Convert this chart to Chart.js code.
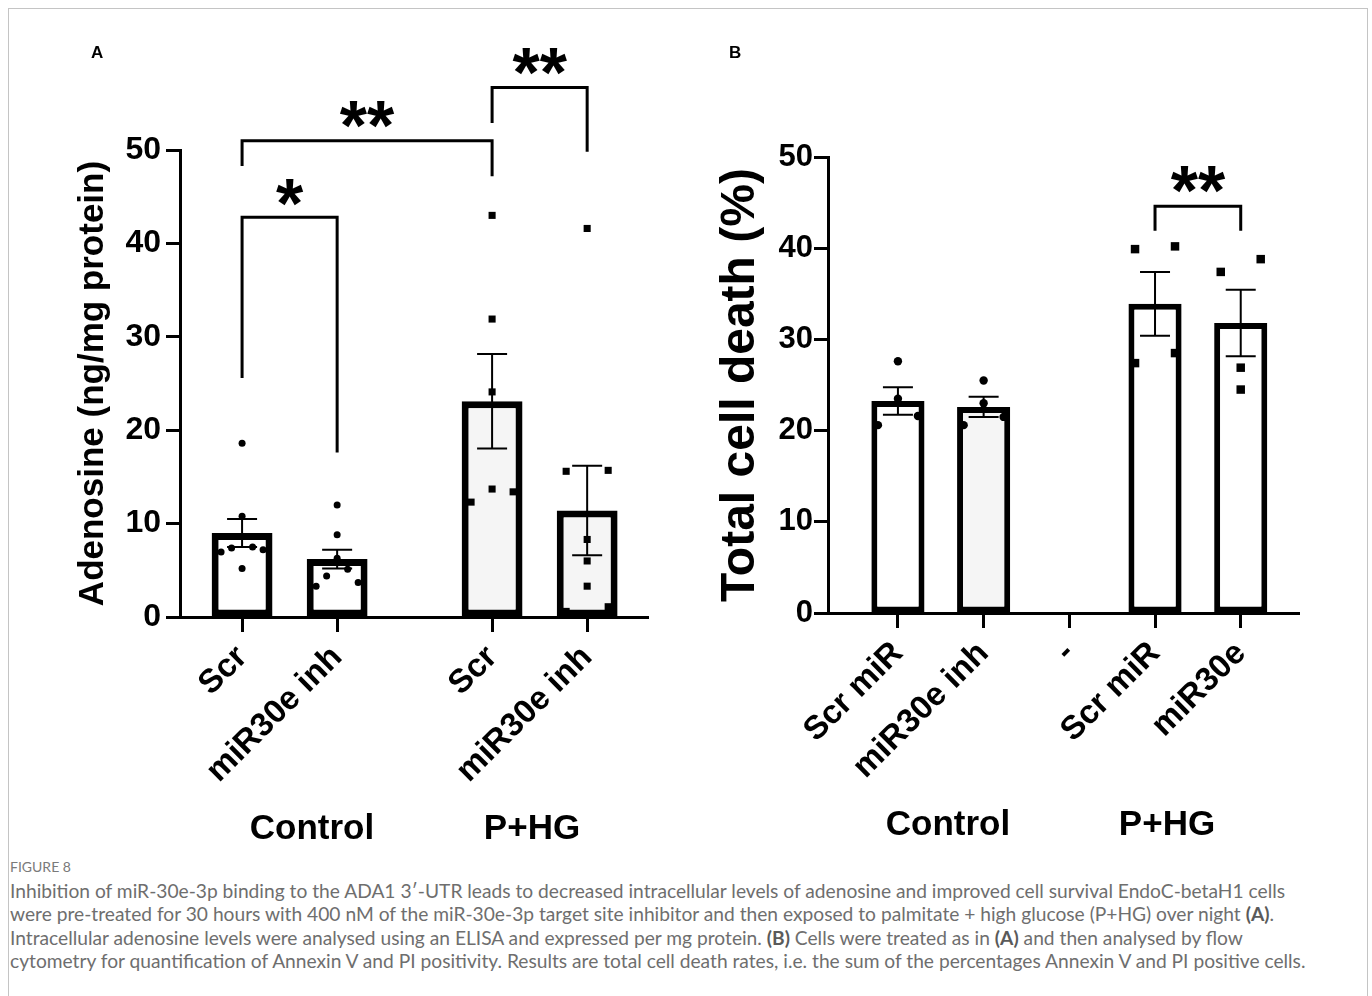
<!DOCTYPE html>
<html>
<head>
<meta charset="utf-8">
<script src="https://cdn.jsdelivr.net/npm/chart.js@4.4.1/dist/chart.umd.min.js"></script>
<style>
body { margin:0; background:#fff; width:1372px; height:996px; overflow:hidden; position:relative; font-family:'Liberation Sans', Arial, sans-serif; }
#frame { position:absolute; left:8px; top:8px; width:1360px; height:1000px; border:1.5px solid #c4c4c4; border-bottom:none; box-sizing:border-box; }
.wrap { position:absolute; top:0; height:850px; }
#wa { left:0; width:690px; }
#wb { left:690px; width:682px; }
.panel { position:absolute; top:43px; font-weight:bold; font-size:17px; }
.group { position:absolute; font-weight:bold; font-size:35px; transform:translate(-50%,-50%); white-space:nowrap; }
#cap { position:absolute; left:10px; top:855px; font-family:Lato, 'Open Sans', sans-serif; color:#6e6e6e; font-size:19.2px; line-height:23.5px; white-space:nowrap; }
#cap .fig { font-size:14px; color:#7a7a7a; }
#cap b { color:#5a5a5a; }
</style>
</head>
<body>
<div id="frame"></div>
<div class="wrap" id="wa"><canvas id="chartA"></canvas></div>
<div class="wrap" id="wb"><canvas id="chartB"></canvas></div>
<div class="panel" style="left:91px">A</div>
<div class="panel" style="left:729px">B</div>
<div class="group" style="left:312px;top:827px">Control</div>
<div class="group" style="left:532px;top:827px">P+HG</div>
<div class="group" style="left:948px;top:823px">Control</div>
<div class="group" style="left:1167px;top:823px">P+HG</div>
<div id="cap">
<div class="fig">FIGURE 8</div>
<div>Inhibition of miR-30e-3p binding to the ADA1 3′-UTR leads to decreased intracellular levels of adenosine and improved cell survival EndoC-betaH1 cells</div>
<div>were pre-treated for 30 hours with 400 nM of the miR-30e-3p target site inhibitor and then exposed to palmitate + high glucose (P+HG) over night <b>(A)</b>.</div>
<div>Intracellular adenosine levels were analysed using an ELISA and expressed per mg protein. <b>(B)</b> Cells were treated as in <b>(A)</b> and then analysed by flow</div>
<div>cytometry for quantification of Annexin V and PI positivity. Results are total cell death rates, i.e. the sum of the percentages Annexin V and PI positive cells.</div>
</div>
<script>
// panel A - adenosine
var adenosineLabels = ['Scr', 'miR30e inh', 'Scr', 'miR30e inh'];
var adenosineMean = [9.0, 6.2, 23.1, 11.4];
var adenosineSem = [1.5, 1.0, 5.05, 4.8];
var adenosineScrCtrl = [18.6, 10.8, 7.5, 7.2, 6.95, 7.4, 5.2];
var adenosineInhCtrl = [12.0, 8.8, 6.3, 5.1, 3.3, 3.7, 4.4];
var adenosineScrPHG = [43.0, 31.9, 24.1, 13.7, 12.3, 13.4];
var adenosineInhPHG = [41.6, 15.7, 15.6, 8.3, 6.0, 3.3, 0.6, 1.1];
// [from, to, label, bracket top, left leg end, right leg end, star centre]
var adenosineSig = [
  [0, 1, '*', 42.8, 25.6, 17.6, 45.8],
  [0, 2, '**', 51.0, 48.3, 47.2, 54.2],
  [2, 3, '**', 56.7, 52.9, 49.8, 59.9]
];

// panel B - total cell death
var deathLabels = ['Scr miR', 'miR30e inh', '-', 'Scr miR', 'miR30e'];
var deathMean = [23.25, 22.6, null, 33.9, 31.8];
var deathSem = [1.5, 1.1, null, 3.5, 3.65];
var deathScrCtrl = [27.6, 23.5, 21.6, 20.6];
var deathInhCtrl = [25.5, 23.0, 20.6, 21.5];
var deathScrPHG = [39.9, 40.2, 27.4, 28.5];
var deathMiRPHG = [37.4, 38.8, 26.9, 24.5];
var deathSig = [
  [3, 4, '**', 44.6, 41.9, 41.9, 47.9]
];

var FONT = "'Liberation Sans', Arial, sans-serif";

// category positions (P+HG group shifted right in A)
var aPos = adenosineLabels.map(function (l, i) { return i + (i >= 2 ? 0.63 : 0); });
var bPos = deathLabels.map(function (l, i) { return i; });

// scatter layout: points that sit close in y are spread into lanes around the bar centre
function swarm(values, center, pxPerY, pxPerX, laneStep, minSep) {
  var order = values.map(function (v, i) { return i; }).sort(function (a, b) { return values[b] - values[a]; });
  var bins = [], out = [];
  order.forEach(function (i, k) {
    if (k === 0 || (values[order[k - 1]] - values[i]) * pxPerY >= minSep) bins.push([]);
    bins[bins.length - 1].push(i);
  });
  bins.forEach(function (bin) {
    var lanes = [];
    if (bin.length % 2) lanes.push(0);
    for (var j = 1; lanes.length < bin.length; j++) { lanes.push(j); lanes.push(-j); }
    bin.forEach(function (i, j) {
      out[i] = { x: center + lanes[j] * laneStep / pxPerX, y: values[i] };
    });
  });
  return out;
}

var extras = {
  id: 'extras',
  afterDatasetsDraw: function (chart, args, opts) {
    var ctx = chart.ctx, xs = chart.scales.x, ys = chart.scales.y;
    ctx.save();
    ctx.strokeStyle = '#000';
    ctx.lineWidth = opts.errWidth;
    opts.pos.forEach(function (p, i) {
      if (opts.mean[i] == null) return;
      var px = xs.getPixelForValue(p);
      var top = ys.getPixelForValue(opts.mean[i] + opts.sem[i]);
      var bot = ys.getPixelForValue(opts.mean[i] - opts.sem[i]);
      ctx.beginPath();
      ctx.moveTo(px, top); ctx.lineTo(px, bot);
      ctx.moveTo(px - opts.cap, top); ctx.lineTo(px + opts.cap, top);
      ctx.moveTo(px - opts.cap, bot); ctx.lineTo(px + opts.cap, bot);
      ctx.stroke();
    });
    ctx.lineWidth = 3;
    ctx.fillStyle = '#000';
    ctx.font = 'bold ' + opts.starSize + 'px ' + FONT;
    ctx.textAlign = 'center';
    ctx.textBaseline = 'alphabetic';
    opts.sig.forEach(function (s) {
      var x1 = xs.getPixelForValue(opts.pos[s[0]]);
      var x2 = xs.getPixelForValue(opts.pos[s[1]]);
      var yt = ys.getPixelForValue(s[3]);
      ctx.beginPath();
      ctx.moveTo(x1, ys.getPixelForValue(s[4]));
      ctx.lineTo(x1, yt);
      ctx.lineTo(x2, yt);
      ctx.lineTo(x2, ys.getPixelForValue(s[5]));
      ctx.stroke();
      ctx.fillText(s[2], (x1 + x2) / 2, ys.getPixelForValue(s[6]) + opts.starSize * 0.56);
    });
    ctx.restore();
  }
};

function dots(data, style, r) {
  return { type: 'scatter', data: data, pointStyle: style, pointRadius: r, pointHoverRadius: r,
    backgroundColor: '#000', borderColor: '#000', borderWidth: 0, order: 1 };
}

function axisX(pos, labels, min, max, height, fontSize) {
  return {
    type: 'linear', min: min, max: max, offset: false,
    afterBuildTicks: function (s) { s.ticks = pos.map(function (v) { return { value: v }; }); },
    afterFit: function (s) { s.height = height; },
    ticks: { autoSkip: false, minRotation: 45, maxRotation: 45, padding: 6, color: '#000',
      font: { family: FONT, size: fontSize, weight: 'bold' },
      callback: function (v, i) { return labels[i]; } },
    grid: { display: true, offset: false, drawOnChartArea: false, drawTicks: true, tickLength: 15, tickWidth: 3, tickColor: '#000' },
    border: { display: true, color: '#000', width: 3 }
  };
}

function axisY(width, title, titleSize, titlePad, tickSize, tickPad) {
  return {
    min: 0, max: 50,
    afterFit: function (s) { s.width = width; },
    ticks: { stepSize: 10, padding: tickPad, color: '#000', font: { family: FONT, size: tickSize, weight: 'bold' } },
    title: { display: true, text: title, color: '#000', font: { family: FONT, size: titleSize, weight: 'bold' },
      padding: { top: titlePad, bottom: 0 } },
    grid: { display: true, drawOnChartArea: false, drawTicks: true, tickLength: 14, tickWidth: 3, tickColor: '#000' },
    border: { display: true, color: '#000', width: 3 }
  };
}

// Panel A
var chartA = new Chart(document.getElementById('chartA'), {
  type: 'bar',
  data: {
    datasets: [
      { type: 'bar', data: aPos.map(function (p, i) { return { x: p, y: adenosineMean[i] }; }),
        backgroundColor: ['#ffffff', '#ffffff', '#f5f5f5', '#f5f5f5'], borderColor: '#000',
        borderWidth: 7, borderSkipped: false, barPercentage: 0.64, categoryPercentage: 1, order: 2 },
      dots(swarm(adenosineScrCtrl, aPos[0], 9.34, 95, 10.5, 8), 'circle', 3.5),
      dots(swarm(adenosineInhCtrl, aPos[1], 9.34, 95, 10.5, 8), 'circle', 3.5),
      dots(swarm(adenosineScrPHG, aPos[2], 9.34, 95, 21, 11), 'rect', 5),
      dots(swarm(adenosineInhPHG, aPos[3], 9.34, 95, 21, 11), 'rect', 5)
    ]
  },
  options: {
    responsive: true, maintainAspectRatio: false, animation: false,
    layout: { padding: { top: 150, right: 42, left: 60, bottom: 0 } },
    plugins: {
      legend: { display: false }, tooltip: { enabled: false },
      extras: { pos: aPos, mean: adenosineMean, sem: adenosineSem, sig: adenosineSig, cap: 15, errWidth: 2, starSize: 70 }
    },
    scales: {
      x: axisX(aPos, adenosineLabels, -0.653, 4.27, 233, 33),
      y: axisY(120, 'Adenosine (ng/mg protein)', 35, 12, 32, 5)
    }
  },
  plugins: [extras]
});

// Panel B
var chartB = new Chart(document.getElementById('chartB'), {
  type: 'bar',
  data: {
    datasets: [
      { type: 'bar', data: bPos.map(function (p, i) { return { x: p, y: deathMean[i] }; }),
        backgroundColor: ['#ffffff', '#f5f5f5', '#ffffff', '#ffffff', '#ffffff'], borderColor: '#000',
        borderWidth: 6, borderSkipped: false, barPercentage: 0.62, categoryPercentage: 1, order: 2 },
      dots(swarm(deathScrCtrl, bPos[0], 9.12, 85.75, 20, 13), 'circle', 4.2),
      dots(swarm(deathInhCtrl, bPos[1], 9.12, 85.75, 20, 13), 'circle', 4.2),
      dots(swarm(deathScrPHG, bPos[3], 9.12, 85.75, 20, 13), 'rect', 6),
      dots(swarm(deathMiRPHG, bPos[4], 9.12, 85.75, 20, 13), 'rect', 6)
    ]
  },
  options: {
    responsive: true, maintainAspectRatio: false, animation: false,
    layout: { padding: { top: 157, right: 73, left: 15, bottom: 0 } },
    plugins: {
      legend: { display: false }, tooltip: { enabled: false },
      extras: { pos: bPos, mean: deathMean, sem: deathSem, sig: deathSig, cap: 15, errWidth: 2, starSize: 70 }
    },
    scales: {
      x: axisX(bPos, deathLabels, -0.816, 4.68, 237, 33),
      y: axisY(123, 'Total cell death (%)', 48, 7, 31, 1)
    }
  },
  plugins: [extras]
});
</script>
</body>
</html>
